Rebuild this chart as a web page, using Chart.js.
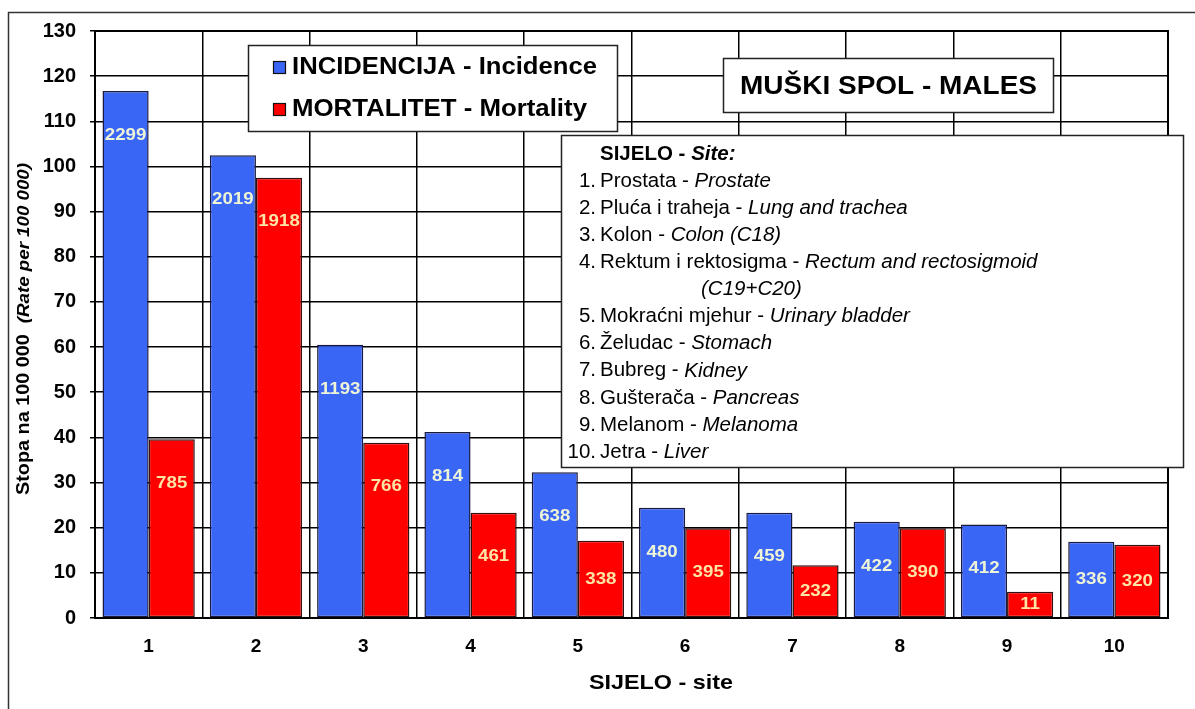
<!DOCTYPE html>
<html><head><meta charset="utf-8">
<script src="https://cdn.jsdelivr.net/npm/chart.js@4/dist/chart.umd.min.js"></script>
<style>html,body{margin:0;padding:0;background:#fff}#wrap{width:1195px;height:709px;position:relative}</style>
</head><body><div id="wrap"><canvas id="c" width="1195" height="709"></canvas></div>
<script>
const categories = ["1","2","3","4","5","6","7","8","9","10"];
const incidenceRate = [116.7, 102.5, 60.5, 41.2, 32.3, 24.4, 23.3, 21.3, 20.7, 16.9];
const mortalityRate = [39.6, 97.5, 38.8, 23.3, 17.1, 19.9, 11.7, 19.9, 5.8, 16.2];
const incidenceCount = [2299, 2019, 1193, 814, 638, 480, 459, 422, 412, 336];
const mortalityCount = [785, 1918, 766, 461, 338, 395, 232, 390, 11, 320];
const yTicks = [0,10,20,30,40,50,60,70,80,90,100,110,120,130];
const siteLines = [
  ["", "SIJELO - ", "Site:"],
  ["1.", "Prostata - ", "Prostate"],
  ["2.", "Pluća i traheja - ", "Lung and trachea"],
  ["3.", "Kolon - ", "Colon (C18)"],
  ["4.", "Rektum i rektosigma - ", "Rectum and rectosigmoid"],
  ["", "", "(C19+C20)"],
  ["5.", "Mokraćni mjehur - ", "Urinary bladder"],
  ["6.", "Želudac - ", "Stomach"],
  ["7.", "Bubreg - ", "Kidney"],
  ["8.", "Gušterača - ", "Pancreas"],
  ["9.", "Melanom - ", "Melanoma"],
  ["10.", "Jetra - ", "Liver"]
];
const FONT = "'Liberation Sans', Arial, sans-serif";

function fitText(ctx, text, x, y, font, target) {
  ctx.font = font;
  const w = ctx.measureText(text).width;
  ctx.save();
  ctx.translate(x, y);
  ctx.scale(target / w, 1);
  ctx.fillText(text, 0, 0);
  ctx.restore();
}

const deco = {
  id: 'deco',
  beforeDraw(chart) {
    const ctx = chart.ctx;
    ctx.save();
    ctx.fillStyle = '#fff';
    ctx.fillRect(0,0,chart.width,chart.height);
    ctx.strokeStyle = '#333'; ctx.lineWidth = 1.5;
    ctx.strokeRect(8.5, 12.5, 1200, 720);
    ctx.restore();
  },
  afterDraw(chart) {
    const ctx = chart.ctx, a = chart.chartArea;
    ctx.save();
    ctx.strokeStyle = '#000'; ctx.lineWidth = 2;
    ctx.strokeRect(a.left, a.top, a.right - a.left, a.bottom - a.top);
    // y title
    ctx.save();
    ctx.translate(24, 329);
    ctx.rotate(-Math.PI/2);
    ctx.fillStyle = '#000';
    ctx.textBaseline = 'middle';
    const t1 = "Stopa na 100 000  ", t2 = "(Rate per 100 000)";
    ctx.font = "bold 18px " + FONT;
    const w1 = ctx.measureText(t1).width;
    ctx.font = "italic bold 17px " + FONT;
    const w2 = ctx.measureText(t2).width;
    const sc = 332 / (w1 + w2);
    ctx.scale(sc, 1);
    let sx = -(w1 + w2)/2;
    ctx.font = "bold 18px " + FONT; ctx.textAlign = 'left';
    ctx.fillText(t1, sx, 0);
    ctx.font = "italic bold 17px " + FONT;
    ctx.fillText(t2, sx + w1, 0);
    ctx.restore();
    // x title
    ctx.fillStyle = '#000';
    ctx.textAlign = 'left'; ctx.textBaseline = 'middle';
    fitText(ctx, "SIJELO - site", 589, 683, "bold 21px " + FONT, 144);
    // legend box
    const ds = chart.data.datasets;
    ctx.fillStyle = '#fff'; ctx.fillRect(248, 45, 369, 86);
    ctx.lineWidth = 1.5; ctx.strokeStyle = '#222'; ctx.strokeRect(248.5, 45.5, 369, 86);
    const legW = [305, 295];
    ds.forEach((d, i) => {
      const y = 67 + i * 42;
      ctx.fillStyle = d.backgroundColor; ctx.fillRect(273, y - 6, 13, 13);
      ctx.strokeStyle = '#111'; ctx.lineWidth = 1.2; ctx.strokeRect(273.5, y - 5.5, 12, 12);
      ctx.fillStyle = '#000'; ctx.textAlign = 'left'; ctx.textBaseline = 'middle';
      fitText(ctx, d.label, 292, y + 1, "bold 23px " + FONT, legW[i]);
    });
    // males box
    ctx.fillStyle = '#fff'; ctx.fillRect(723, 58, 330, 54);
    ctx.strokeStyle = '#222'; ctx.lineWidth = 1.5; ctx.strokeRect(723.5, 58.5, 330, 54);
    ctx.fillStyle = '#000'; ctx.textAlign = 'left';
    fitText(ctx, "MUŠKI SPOL - MALES", 740, 87, "bold 25px " + FONT, 297);
    // site box
    ctx.fillStyle = '#fff'; ctx.fillRect(561, 135, 622, 332);
    ctx.strokeStyle = '#222'; ctx.lineWidth = 1.5; ctx.strokeRect(561.5, 135.5, 622, 332);
    const fs = 20.5;
    siteLines.forEach((ln, i) => {
      const y = 154 + i * 27.1;
      ctx.fillStyle = '#000'; ctx.textBaseline = 'middle';
      ctx.font = fs + "px " + FONT;
      if (ln[0]) { ctx.textAlign = 'right'; ctx.fillText(ln[0], 596, y); }
      ctx.textAlign = 'left';
      let x = 600;
      if (i === 0) ctx.font = "bold " + fs + "px " + FONT;
      if (ln[1]) { ctx.fillText(ln[1], x, y); x += ctx.measureText(ln[1]).width; }
      if (i === 5) x = 701;
      ctx.font = "italic " + (i === 0 ? "bold " : "") + fs + "px " + FONT;
      ctx.fillText(ln[2], x, y);
    });
    ctx.restore();
  },
  afterDatasetsDraw(chart) {
    const ctx = chart.ctx;
    ctx.save();
    ctx.font = "bold 17px " + FONT; ctx.textAlign = 'center'; ctx.textBaseline = 'middle';
    chart.data.datasets.forEach((d, di) => {
      const meta = chart.getDatasetMeta(di);
      meta.data.forEach((el, i) => {
        const h = el.base - el.y;
        const y = el.y + Math.min(44, h / 2);
        ctx.fillStyle = di === 0 ? '#eef4d6' : '#ffe4a6';
        ctx.save();
        ctx.translate(el.x, y);
        ctx.scale(1.1, 1);
        ctx.fillText(String(d.counts[i]), 0, 0);
        ctx.restore();
      });
    });
    ctx.restore();
  }
};

new Chart(document.getElementById('c'), {
  type: 'bar',
  data: {
    labels: categories,
    datasets: [
      { label: "INCIDENCIJA - Incidence", data: incidenceRate, counts: incidenceCount,
        backgroundColor: '#3a66f5', borderColor: '#1a1a40', borderWidth: 1.5, borderSkipped: false,
        categoryPercentage: 0.86, barPercentage: 1.0 },
      { label: "MORTALITET - Mortality", data: mortalityRate, counts: mortalityCount,
        backgroundColor: '#ff0000', borderColor: '#301010', borderWidth: 1.5, borderSkipped: false,
        categoryPercentage: 0.86, barPercentage: 1.0 }
    ]
  },
  options: {
    responsive: false, animation: false, devicePixelRatio: 1,
    layout: { padding: { left: 0, top: 31, right: 27, bottom: 0 } },
    plugins: { legend: { display: false }, tooltip: { enabled: false }, title: { display: false } },
    scales: {
      x: {
        afterFit(s) { s.height = 91; },
        grid: { color: '#000', lineWidth: 1.5, offset: true, tickLength: 0 },
        border: { color: '#000', width: 2 },
        ticks: { color: '#000', font: { family: FONT, size: 19, weight: 'bold' }, padding: 17 }
      },
      y: {
        min: 0, max: 130,
        afterFit(s) { s.width = 95; },
        afterBuildTicks(s) { s.ticks = yTicks.map(v => ({ value: v })); },
        grid: { color: '#000', lineWidth: 1.5, tickLength: 5 },
        border: { color: '#000', width: 2 },
        ticks: { color: '#000', font: { family: FONT, size: 20, weight: 'bold' }, padding: 14 }
      }
    }
  },
  plugins: [deco]
});
</script></body></html>
